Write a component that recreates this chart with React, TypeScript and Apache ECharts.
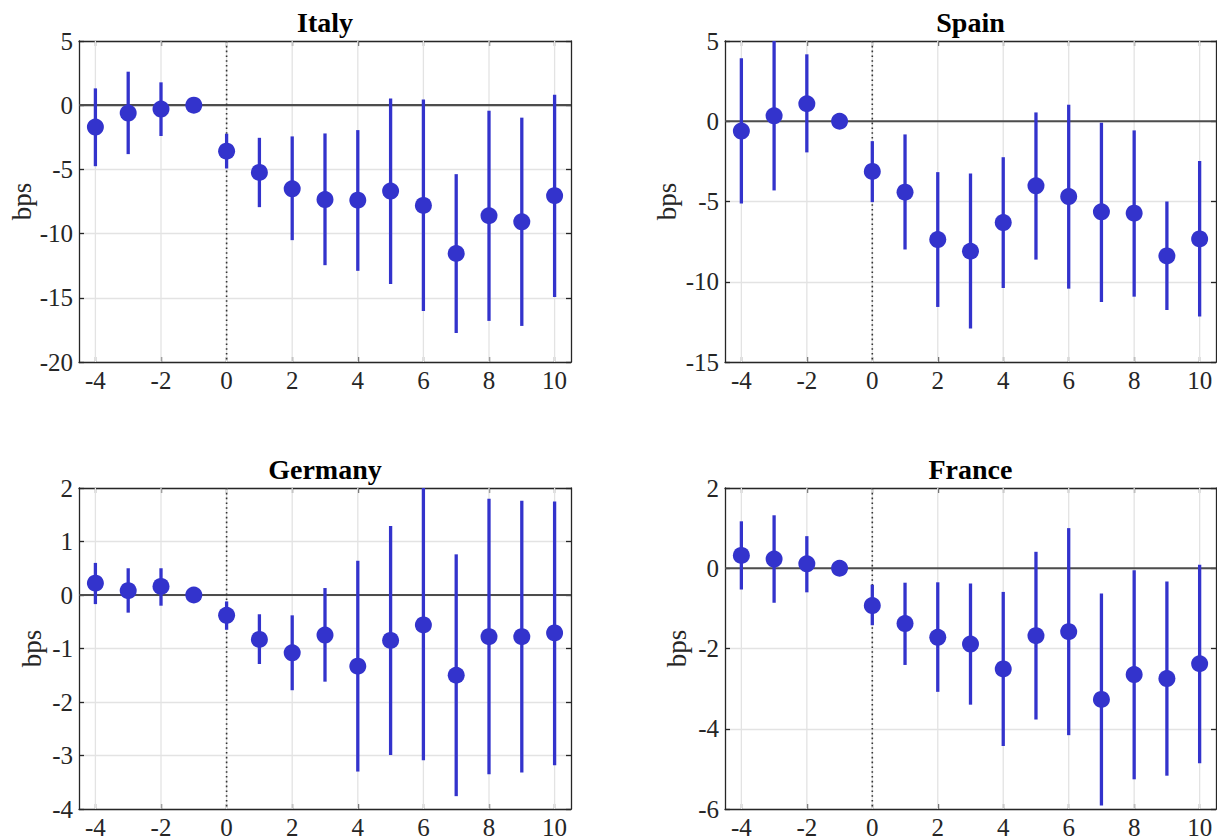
import React, { useEffect, useRef } from "react";
import * as echarts from "echarts";

const horizons = [-4, -3, -2, -1, 0, 1, 2, 3, 4, 5, 6, 7, 8, 9, 10];
const xTicks = [-4, -2, 0, 2, 4, 6, 8, 10];

const italyCoef = [-1.7, -0.61, -0.3, 0, -3.58, -5.24, -6.51, -7.35, -7.4, -6.69, -7.81, -11.55, -8.61, -9.08, -7.05];
const italyLow = [-4.75, -3.81, -2.4, null, -4.93, -7.94, -10.51, -12.46, -12.9, -13.92, -16.02, -17.74, -16.8, -17.19, -14.93];
const italyHigh = [1.31, 2.61, 1.78, null, -2.22, -2.54, -2.43, -2.2, -1.94, 0.53, 0.45, -5.37, -0.43, -0.97, 0.81];

const spainCoef = [-0.61, 0.34, 1.09, 0, -3.13, -4.42, -7.37, -8.1, -6.31, -4.02, -4.69, -5.64, -5.73, -8.39, -7.33];
const spainLow = [-5.12, -4.31, -1.94, null, -5.04, -7.99, -11.57, -12.92, -10.39, -8.62, -10.43, -11.26, -10.93, -11.76, -12.17];
const spainHigh = [3.92, 5.0, 4.17, null, -1.24, -0.82, -3.17, -3.25, -2.24, 0.55, 1.03, -0.09, -0.57, -5.0, -2.48];

const germanyCoef = [0.22, 0.08, 0.16, 0, -0.38, -0.83, -1.08, -0.75, -1.33, -0.85, -0.56, -1.5, -0.78, -0.78, -0.71];
const germanyLow = [-0.17, -0.33, -0.2, null, -0.65, -1.29, -1.78, -1.62, -3.3, -2.99, -3.09, -3.76, -3.35, -3.32, -3.18];
const germanyHigh = [0.6, 0.5, 0.5, null, -0.12, -0.36, -0.38, 0.13, 0.64, 1.29, 2.0, 0.76, 1.8, 1.76, 1.75];

const franceCoef = [0.32, 0.23, 0.11, 0, -0.93, -1.38, -1.72, -1.89, -2.51, -1.68, -1.58, -3.27, -2.65, -2.75, -2.38];
const franceLow = [-0.53, -0.86, -0.6, null, -1.42, -2.41, -3.08, -3.4, -4.43, -3.77, -4.16, -5.91, -5.26, -5.17, -4.86];
const franceHigh = [1.17, 1.32, 0.8, null, -0.41, -0.36, -0.35, -0.38, -0.59, 0.41, 1.0, -0.63, -0.05, -0.33, 0.09];

const panels = [
  { title: "Italy", coef: italyCoef, low: italyLow, high: italyHigh, yMin: -20, yMax: 5, yStep: 5, grid: { left: 79, top: 41, width: 492, height: 321 }, nameGap: 42 },
  { title: "Spain", coef: spainCoef, low: spainLow, high: spainHigh, yMin: -15, yMax: 5, yStep: 5, grid: { left: 725, top: 41, width: 491, height: 321 }, nameGap: 45 },
  { title: "Germany", coef: germanyCoef, low: germanyLow, high: germanyHigh, yMin: -4, yMax: 2, yStep: 1, grid: { left: 79, top: 488, width: 492, height: 322 }, nameGap: 34 },
  { title: "France", coef: franceCoef, low: franceLow, high: franceHigh, yMin: -6, yMax: 2, yStep: 2, grid: { left: 725, top: 488, width: 491, height: 322 }, nameGap: 35 },
];

const BLUE = "#3333cc";
const AXIS = "#262626";
const FONT = "Liberation Serif, serif";

export default function App() {
  const ref = useRef<HTMLDivElement>(null);
  useEffect(() => {
    if (!ref.current) return;
    const chart = echarts.init(ref.current, null, { renderer: "svg" });
    const grids: any[] = [];
    const xAxes: any[] = [];
    const yAxes: any[] = [];
    const series: any[] = [];
    const graphics: any[] = [];
    const tickText = { fontFamily: FONT, fontSize: 25, color: AXIS };

    panels.forEach((p, i) => {
      grids.push({ ...p.grid, containLabel: false });
      const xBase = {
        type: "value",
        gridIndex: i,
        min: -4.5,
        max: 10.5,
        axisLine: { show: true, onZero: false, lineStyle: { color: AXIS, width: 1.3 } },
        splitLine: { show: false },
      };
      xAxes.push({
        ...xBase,
        position: "bottom",
        axisTick: { show: true, inside: true, length: 5, customValues: xTicks, lineStyle: { color: AXIS, width: 1.3 } },
        axisLabel: { show: true, customValues: xTicks, margin: 6, ...tickText },
      });
      xAxes.push({
        ...xBase,
        position: "top",
        axisTick: { show: true, inside: true, length: 5, customValues: xTicks, lineStyle: { color: AXIS, width: 1.3 } },
        axisLabel: { show: false },
      });
      const yBase = {
        type: "value",
        gridIndex: i,
        min: p.yMin,
        max: p.yMax,
        interval: p.yStep,
        axisLine: { show: true, onZero: false, lineStyle: { color: AXIS, width: 1.3 } },
        axisTick: { show: true, inside: true, length: 5, lineStyle: { color: AXIS, width: 1.3 } },
      };
      yAxes.push({
        ...yBase,
        position: "left",
        name: "bps",
        nameLocation: "middle",
        nameGap: p.nameGap,
        nameRotate: 90,
        nameTextStyle: { fontFamily: FONT, fontSize: 27, color: AXIS },
        axisLabel: { show: true, margin: 6, ...tickText },
        splitLine: { show: true, lineStyle: { color: "#e3e3e3", width: 1.3 } },
      });
      yAxes.push({
        ...yBase,
        position: "right",
        axisLabel: { show: false },
        splitLine: { show: false },
      });

      const xi = i * 2;
      const yi = i * 2;

      series.push({
        type: "custom",
        xAxisIndex: xi,
        yAxisIndex: yi,
        silent: true,
        z: 1,
        data: xTicks.map((v) => [v, 0]),
        renderItem: (params: any, api: any) => {
          const c = api.coord([api.value(0), 0]);
          const cs = params.coordSys;
          return {
            type: "line",
            shape: { x1: c[0], y1: cs.y, x2: c[0], y2: cs.y + cs.height },
            style: { stroke: "#e3e3e3", lineWidth: 1.3 },
          };
        },
      });
      series.push({
        type: "custom",
        xAxisIndex: xi,
        yAxisIndex: yi,
        silent: true,
        z: 2,
        data: [[0, 0]],
        renderItem: (params: any, api: any) => {
          const c = api.coord([0, 0]);
          const cs = params.coordSys;
          return {
            type: "group",
            children: [
              {
                type: "line",
                shape: { x1: cs.x, y1: c[1], x2: cs.x + cs.width, y2: c[1] },
                style: { stroke: "#4d4d4d", lineWidth: 2.2 },
              },
              {
                type: "line",
                shape: { x1: c[0], y1: cs.y, x2: c[0], y2: cs.y + cs.height },
                style: { stroke: "#333333", lineWidth: 1.6, lineDash: [1.6, 3.2] },
              },
            ],
          };
        },
      });
      const bars = horizons
        .map((h, k) => [h, p.low[k], p.high[k]])
        .filter((d) => d[1] !== null && d[2] !== null);
      series.push({
        type: "custom",
        xAxisIndex: xi,
        yAxisIndex: yi,
        silent: true,
        z: 3,
        data: bars,
        encode: { x: 0, y: [1, 2] },
        renderItem: (params: any, api: any) => {
          const a = api.coord([api.value(0), api.value(1)]);
          const b = api.coord([api.value(0), api.value(2)]);
          return {
            type: "line",
            shape: { x1: a[0], y1: a[1], x2: b[0], y2: b[1] },
            style: { stroke: BLUE, lineWidth: 3.3 },
          };
        },
      });
      series.push({
        type: "scatter",
        xAxisIndex: xi,
        yAxisIndex: yi,
        z: 4,
        symbol: "circle",
        symbolSize: 17,
        itemStyle: { color: BLUE, opacity: 1 },
        data: horizons.map((h, k) => [h, p.coef[k]]),
      });

      graphics.push({
        type: "text",
        x: p.grid.left + p.grid.width / 2,
        y: p.grid.top - 19,
        style: {
          text: p.title,
          textAlign: "center",
          textVerticalAlign: "middle",
          font: `bold 28px ${FONT}`,
          fill: "#000000",
        },
      });
    });

    chart.setOption({
      animation: false,
      backgroundColor: "#ffffff",
      textStyle: { fontFamily: FONT, color: AXIS },
      grid: grids,
      xAxis: xAxes,
      yAxis: yAxes,
      series,
      graphic: graphics,
    });
    return () => chart.dispose();
  }, []);

  return (
    <div
      ref={ref}
      style={{ position: "absolute", left: 0, top: 0, width: 1217, height: 840 }}
    />
  );
}
